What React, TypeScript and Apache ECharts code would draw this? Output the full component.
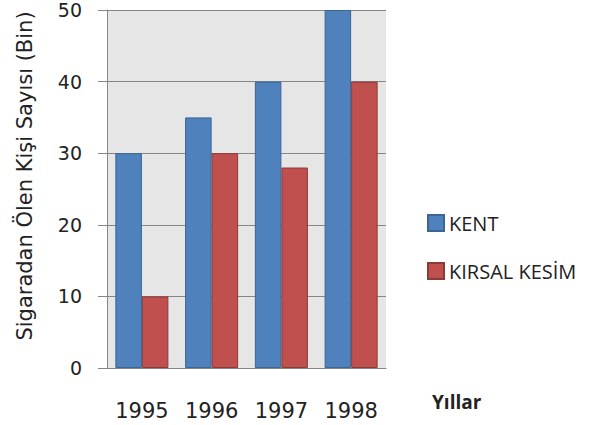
import React, { useEffect, useRef } from "react";
import * as echarts from "echarts";

const years = ["1995", "1996", "1997", "1998"];
const kent = [30, 35, 40, 50];
const kirsal = [10, 30, 28, 40];
const seriesNames = ["KENT", "KIRSAL KESİM"];
const yAxisTitle = "Sigaradan Ölen Kişi Sayısı (Bin)";
const xAxisTitle = "Yıllar";

export default function App() {
  const ref = useRef<HTMLDivElement>(null);
  useEffect(() => {
    if (!ref.current) return;
    const chart = echarts.init(ref.current, null, { renderer: "svg" });
    const gray = "#868686";
    chart.setOption({
      animation: false,
      backgroundColor: "#ffffff",
      grid: {
        left: 107,
        top: 10,
        right: 222,
        bottom: 57,
        show: true,
        backgroundColor: "#e6e6e6",
        borderWidth: 0,
      },
      legend: {
        orient: "vertical",
        left: 427,
        top: 213,
        padding: 0,
        itemWidth: 16,
        itemHeight: 16,
        itemGap: 28,
        icon: "rect",
        data: seriesNames,
        textStyle: {
          fontFamily: "Open Sans",
          fontSize: 20,
          lineHeight: 16,
          color: "#222222",
        },
      },
      xAxis: {
        type: "category",
        data: years,
        axisLine: { show: true, lineStyle: { color: gray, width: 1 } },
        axisTick: { show: false },
        axisLabel: {
          margin: 32,
          fontFamily: "DejaVu Sans",
          fontSize: 21,
          color: "#222222",
        },
      },
      yAxis: {
        type: "value",
        min: 0,
        max: 50,
        interval: 10,
        axisLine: { show: true, lineStyle: { color: gray, width: 1 } },
        axisTick: { show: true, length: 9, lineStyle: { color: gray } },
        splitLine: { show: true, lineStyle: { color: gray, width: 1 } },
        axisLabel: {
          margin: 25,
          fontFamily: "DejaVu Sans",
          fontSize: 19,
          color: "#222222",
        },
      },
      graphic: [
        {
          type: "text",
          x: 25,
          y: 176,
          rotation: Math.PI / 2,
          style: {
            text: yAxisTitle,
            fontFamily: "DejaVu Sans",
            fontSize: 21,
            fill: "#222222",
            textAlign: "center",
            textVerticalAlign: "middle",
          },
        },
        {
          type: "text",
          x: 432,
          y: 402,
          style: {
            text: xAxisTitle,
            fontFamily: "Open Sans",
            fontWeight: "bold",
            fontSize: 19,
            fill: "#222222",
            textAlign: "left",
            textVerticalAlign: "middle",
          },
        },
      ],
      series: [
        {
          name: seriesNames[0],
          type: "bar",
          data: kent,
          barGap: "0%",
          barCategoryGap: "24%",
          itemStyle: { color: "#4f81bd", borderColor: "#3a6595", borderWidth: 1 },
        },
        {
          name: seriesNames[1],
          type: "bar",
          data: kirsal,
          barGap: "0%",
          barCategoryGap: "24%",
          itemStyle: { color: "#c0504d", borderColor: "#8b3a38", borderWidth: 1 },
        },
      ],
    });
    return () => chart.dispose();
  }, []);
  return <div ref={ref} style={{ width: 608, height: 425, position: "absolute", left: 0, top: 0 }} />;
}
